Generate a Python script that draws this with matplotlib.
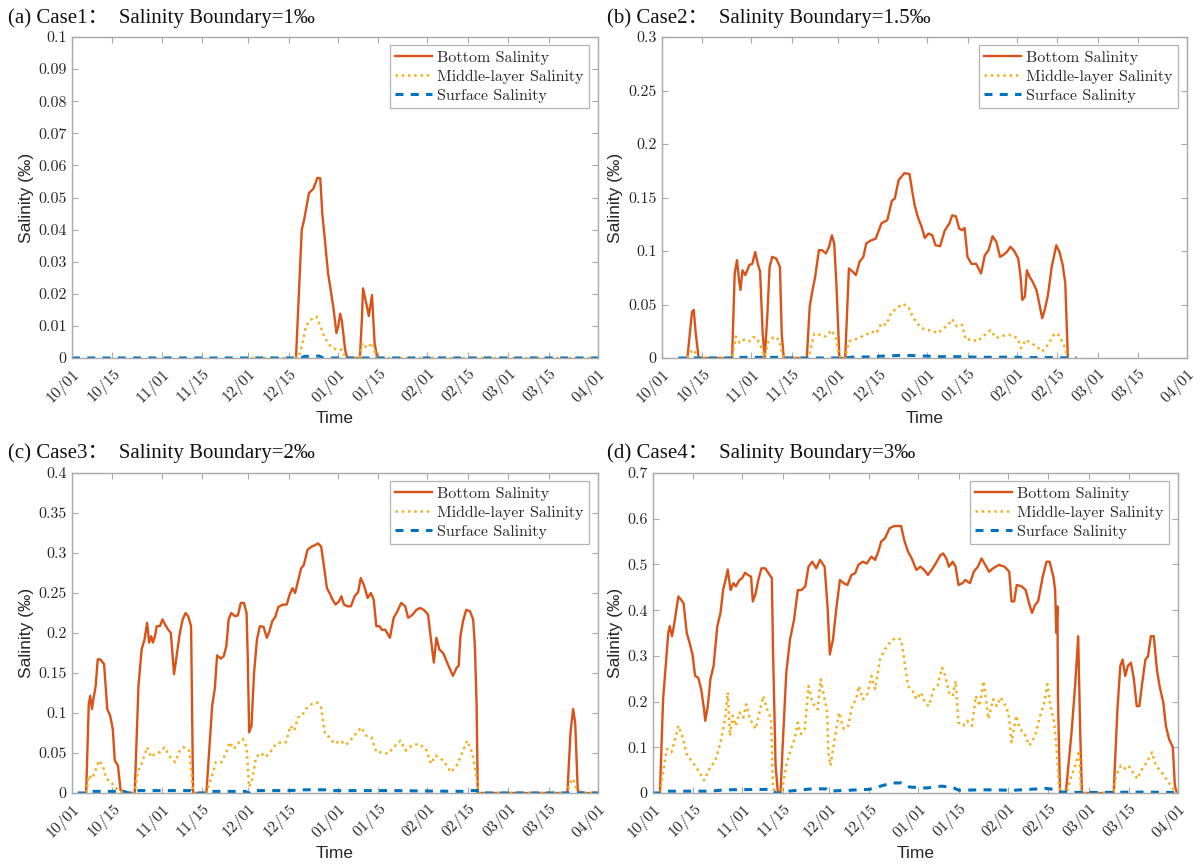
import numpy as np
import matplotlib
matplotlib.use("Agg")
import matplotlib.pyplot as plt

# ---------------- data (day offset from 10/01) ----------------
tick_days = [0, 14, 31, 45, 61, 75, 92, 106, 123, 137, 151, 165, 182]
tick_labels = ["10/01", "10/15", "11/01", "11/15", "12/01", "12/15", "01/01",
               "01/15", "02/01", "02/15", "03/01", "03/15", "04/01"]

series_names = ["Bottom Salinity", "Middle-layer Salinity", "Surface Salinity"]
titles = ["(a) Case1：  Salinity Boundary=1‰",
          "(b) Case2：  Salinity Boundary=1.5‰",
          "(c) Case3：  Salinity Boundary=2‰",
          "(d) Case4：  Salinity Boundary=3‰"]
ylims = [0.1, 0.3, 0.4, 0.7]
yticks_a = [0, 0.01, 0.02, 0.03, 0.04, 0.05, 0.06, 0.07, 0.08, 0.09, 0.1]
yticks_b = [0, 0.05, 0.1, 0.15, 0.2, 0.25, 0.3]
yticks_c = [0, 0.05, 0.1, 0.15, 0.2, 0.25, 0.3, 0.35, 0.4]
yticks_d = [0, 0.1, 0.2, 0.3, 0.4, 0.5, 0.6, 0.7]

# Case 1
a_bot_day = [77.5, 79.5, 80.3, 82.0, 83.5, 84.9, 85.9, 86.6, 87.5, 88.6, 89.5, 90.4,
             91.5, 92.1, 92.8, 93.4, 94.5, 95.2, 99.6, 100.3, 100.7, 101.8, 102.7,
             103.8, 104.7, 105.6]
a_bot_val = [0, 0.040, 0.043, 0.0514, 0.0527, 0.0561, 0.056, 0.045, 0.0367, 0.0264,
             0.0212, 0.016, 0.0078, 0.0098, 0.0138, 0.0114, 0.0026, 0, 0, 0.012,
             0.0217, 0.0171, 0.0131, 0.0196, 0.0047, 0]
a_mid_day = [62, 78.2, 79.6, 80.9, 82.5, 84.6, 86.2, 87.5, 89.5, 91.5, 93.4, 94.8,
             99.4, 100.5, 102, 104, 105.3, 182]
a_mid_val = [0, 0, 0.004, 0.0098, 0.0119, 0.0129, 0.0093, 0.0062, 0.0036, 0.0026,
             0.0026, 0, 0, 0.0047, 0.0031, 0.0047, 0, 0]
a_sur_day = [0, 79, 80.5, 85.5, 87, 182]
a_sur_val = [0, 0, 0.0005, 0.0006, 0, 0]

# Case 2
b_bot_day = [8.8, 10.4, 11.0, 11.7, 12.7, 24.3, 25.2, 26.0, 26.7, 27.2, 27.9, 28.9,
             30.3, 31.3, 32.3, 33.2, 34.0, 34.9, 35.6, 36.5, 37.3, 38.2, 39.6, 40.9,
             41.5, 42.2, 50.2, 51.2, 52.2, 53.1, 54.4, 55.5, 56.8, 57.9, 58.9, 59.7,
             60.5, 61.5, 63.5, 64.8, 65.8, 67.2, 68.5, 69.8, 70.8, 72.1, 74.1, 76.1,
             78.1, 79.7, 80.7, 82.0, 84.0, 85.8, 86.7, 87.6, 88.7, 90.0, 91.1, 92.4,
             93.7, 94.8, 96.4, 98.0, 99.6, 100.6, 101.9, 103.0, 104.0, 104.9, 105.9,
             107.3, 108.9, 110.6, 111.9, 113.2, 114.6, 115.9, 117.2, 118.5, 119.5,
             120.8, 122.1, 123.5, 124.3, 124.9, 125.8, 126.5, 127.4, 128.5, 129.8,
             130.9, 131.8, 132.7, 133.8, 135.1, 136.7, 137.8, 138.9, 139.8, 140.7]
b_bot_val = [0, 0.043, 0.045, 0.023, 0, 0, 0.079, 0.0915, 0.073, 0.0636, 0.082,
             0.0775, 0.087, 0.088, 0.099, 0.088, 0.081, 0.023, 0, 0.039, 0.085,
             0.0945, 0.093, 0.085, 0.023, 0, 0, 0.048, 0.0636, 0.076, 0.1008, 0.1008,
             0.0977, 0.104, 0.1147, 0.107, 0.0667, 0, 0, 0.0837, 0.0815, 0.0775, 0.09,
             0.0945, 0.107, 0.1094, 0.1116, 0.126, 0.1287, 0.147, 0.149, 0.166,
             0.1727, 0.172, 0.1566, 0.1426, 0.1318, 0.1225, 0.1122, 0.1163, 0.1147,
             0.1054, 0.1045, 0.119, 0.1256, 0.1333, 0.1324, 0.121, 0.1194, 0.1216,
             0.0945, 0.088, 0.088, 0.079, 0.096, 0.1008, 0.1138, 0.1085, 0.0945,
             0.0967, 0.099, 0.104, 0.100, 0.093, 0.076, 0.0543, 0.0574, 0.082, 0.076,
             0.0713, 0.0636, 0.0496, 0.0372, 0.045, 0.0589, 0.0853, 0.1054, 0.099,
             0.087, 0.07, 0]
b_mid_day = [8.8, 10.1, 11.0, 12.3, 24.3, 25.6, 27.0, 28.3, 30.3, 31.6, 32.9, 34.2,
             35.6, 36.9, 38.9, 40.6, 42.0, 50.2, 51.2, 52.8, 54.8, 56.8, 58.8, 60.5,
             61.5, 63.5, 64.8, 66.8, 68.8, 70.8, 72.7, 74.3, 76.1, 77.8, 79.4, 81.4,
             83.4, 85.4, 86.7, 88.4, 90.0, 92.0, 93.7, 95.6, 97.7, 99.3, 100.6, 102.2,
             104.0, 105.3, 107.3, 109.3, 111.2, 113.9, 115.9, 117.9, 120.5, 123.2,
             124.5, 126.1, 127.8, 129.8, 131.8, 133.8, 135.8, 137.1, 139.1, 140.7]
b_mid_val = [0, 0.006, 0.0078, 0, 0, 0.02, 0.014, 0.017, 0.0155, 0.0195, 0.0186,
             0.011, 0.0015, 0.0155, 0.02, 0.017, 0, 0, 0.0047, 0.023, 0.0217, 0.02,
             0.026, 0.017, 0, 0, 0.0155, 0.017, 0.0195, 0.0217, 0.0248, 0.023, 0.0326,
             0.031, 0.042, 0.0465, 0.0505, 0.048, 0.040, 0.0326, 0.028, 0.026, 0.0257,
             0.023, 0.028, 0.031, 0.0363, 0.0295, 0.031, 0.017, 0.0177, 0.0155, 0.02,
             0.026, 0.0186, 0.0208, 0.0217, 0.0186, 0.0093, 0.017, 0.014, 0.011,
             0.006, 0.0124, 0.0217, 0.023, 0.014, 0]
b_sur_day = [5.7, 24, 26, 40, 42, 63, 66, 72, 78, 84, 90, 96, 104, 110, 120, 128,
             136, 143.8]
b_sur_val = [0, 0, 0.0006, 0.0006, 0, 0, 0.0008, 0.001, 0.002, 0.0025, 0.002,
             0.0012, 0.0012, 0.0006, 0.0008, 0.0004, 0.0004, 0]

# Case 3
c_bot_day = [4.9, 5.8, 6.3, 6.9, 7.4, 8.2, 8.9, 9.8, 11.1, 12.2, 13.2, 14.1, 14.8,
             15.9, 16.8, 18.1, 18.8, 21.7, 23.0, 24.1, 25.1, 26.0, 26.7, 27.4, 28.0,
             28.7, 29.3, 30.4, 31.3, 32.2, 33.3, 34.2, 35.3, 36.2, 37.3, 38.3, 39.3,
             40.2, 41.2, 41.5, 41.9, 46.5, 48.5, 49.4, 50.2, 51.5, 52.5, 53.4, 54.2,
             55.1, 56.4, 57.4, 58.4, 59.5, 60.4, 60.8, 61.3, 62.1, 63.0, 64.0, 65.0,
             66.3, 67.4, 68.3, 69.3, 70.3, 71.4, 73.0, 74.3, 75.3, 76.3, 77.2, 78.2,
             79.3, 80.2, 81.5, 82.9, 84.2, 85.1, 86.2, 87.2, 88.2, 89.1, 90.1, 91.2,
             92.4, 93.2, 94.1, 95.4, 96.5, 97.8, 99.0, 99.9, 101.0, 102.3, 103.4,
             104.4, 105.3, 106.3, 107.3, 108.4, 110.0, 111.3, 112.6, 113.9, 115.3,
             116.3, 117.6, 119.2, 120.5, 121.9, 123.2, 124.2, 125.2, 126.1, 127.1,
             128.5, 129.8, 130.8, 131.8, 133.1, 133.8, 134.4, 135.3, 136.4, 137.7,
             138.8, 139.4, 140.0, 140.4, 171.4, 172.5, 173.4, 174.1, 175.0, 176.0,
             177.4, 182]
c_bot_val = [0, 0.111, 0.1215, 0.105, 0.117, 0.134, 0.167, 0.167, 0.161, 0.105,
             0.0966, 0.080, 0.0406, 0.0344, 0.0033, 0.002, 0, 0, 0.134, 0.1795,
             0.192, 0.2127, 0.188, 0.196, 0.188, 0.196, 0.2085, 0.2085, 0.217, 0.2106,
             0.204, 0.200, 0.1485, 0.171, 0.200, 0.217, 0.225, 0.221, 0.2085, 0.117,
             0, 0, 0.109, 0.13, 0.172, 0.168, 0.171, 0.1837, 0.217, 0.225, 0.221,
             0.222, 0.2376, 0.2376, 0.225, 0.171, 0.0759, 0.084, 0.1505, 0.192,
             0.2085, 0.2077, 0.194, 0.202, 0.2148, 0.22, 0.2326, 0.2355, 0.2355,
             0.248, 0.256, 0.25, 0.2645, 0.281, 0.285, 0.304, 0.308, 0.31, 0.312,
             0.308, 0.283, 0.256, 0.25, 0.242, 0.2355, 0.2396, 0.246, 0.2355, 0.2334,
             0.2334, 0.246, 0.251, 0.2687, 0.26, 0.2438, 0.25, 0.2417, 0.2085, 0.2085,
             0.204, 0.204, 0.194, 0.219, 0.2272, 0.2376, 0.2334, 0.219, 0.222, 0.229,
             0.2313, 0.2285, 0.223, 0.192, 0.163, 0.194, 0.1795, 0.1745, 0.163,
             0.1546, 0.1464, 0.1567, 0.159, 0.196, 0.2148, 0.229, 0.2272, 0.217,
             0.1837, 0.109, 0, 0, 0.0759, 0.105, 0.088, 0.003, 0.001, 0, 0]
c_mid_day = [4.9, 5.8, 6.9, 7.9, 9.3, 10.6, 11.9, 13.5, 14.8, 16.4, 18.8, 21.7,
             22.7, 24.3, 26.0, 27.4, 28.7, 30.4, 32.0, 34.0, 35.7, 37.3, 38.6, 40.6,
             41.9, 46.5, 48.5, 49.8, 51.8, 53.4, 54.5, 56.0, 57.8, 59.1, 60.4, 61.3,
             62.4, 63.7, 65.3, 67.0, 69.0, 70.6, 72.3, 74.0, 75.6, 76.9, 78.2, 79.6,
             80.9, 82.9, 84.9, 86.2, 87.5, 89.1, 90.8, 92.8, 94.8, 96.7, 98.7, 100.0,
             101.8, 103.6, 105.3, 107.3, 109.3, 111.3, 113.7, 115.5, 117.6, 119.9,
             122.5, 124.2, 125.8, 128.5, 131.1, 133.1, 135.1, 136.7, 138.4, 139.7,
             140.7, 171.4, 172.1, 173.4, 174.7, 176.0, 182]
c_mid_val = [0, 0.022, 0.0178, 0.026, 0.0406, 0.0344, 0.0178, 0.0137, 0.0075,
             0.002, 0, 0, 0.026, 0.0386, 0.0572, 0.0448, 0.049, 0.051, 0.0572,
             0.0448, 0.0386, 0.053, 0.0572, 0.053, 0, 0, 0.022, 0.0386, 0.0386,
             0.051, 0.0634, 0.0551, 0.0634, 0.0676, 0.0572, 0.0075, 0.0178, 0.0448,
             0.05, 0.0448, 0.053, 0.0614, 0.0634, 0.0634, 0.084, 0.078, 0.0945,
             0.0966, 0.105, 0.111, 0.113, 0.107, 0.0738, 0.0697, 0.0614, 0.0655,
             0.06, 0.0676, 0.0759, 0.082, 0.0717, 0.0697, 0.051, 0.051, 0.049, 0.0572,
             0.0655, 0.053, 0.0593, 0.0614, 0.0551, 0.0365, 0.0468, 0.0406, 0.026,
             0.0344, 0.051, 0.0655, 0.051, 0.026, 0, 0, 0.0116, 0.0178, 0.003, 0, 0]
c_sur_day = [2, 5, 6, 18, 19.5, 22, 23, 41, 42, 47, 48, 60, 61, 62, 63, 75, 80,
             88, 90, 110, 135, 138, 140, 141, 182]
c_sur_val = [0, 0, 0.002, 0.002, 0, 0, 0.003, 0.003, 0, 0, 0.002, 0.002, 0, 0,
             0.003, 0.003, 0.004, 0.004, 0.003, 0.003, 0.002, 0.003, 0.003, 0, 0]

# Case 4
d_bot_day = [2.4, 3.5, 4.4, 5.3, 5.8, 6.6, 7.4, 8.8, 9.7, 10.6, 11.7, 12.7, 13.7,
             14.6, 15.7, 16.7, 17.7, 18.1, 19.0, 19.9, 21.0, 22.3, 23.4, 24.3, 25.4,
             25.9, 26.9, 27.9, 28.7, 30.0, 30.9, 31.9, 32.9, 34.0, 34.6, 35.6, 36.5,
             37.6, 38.9, 40.0, 41.2, 41.6, 42.5, 43.3, 44.2, 44.9, 46.2, 47.5, 48.9,
             50.2, 51.5, 52.8, 53.9, 55.2, 56.6, 57.9, 59.5, 60.5, 61.3, 62.4, 63.5,
             64.8, 66.1, 67.4, 68.8, 70.1, 71.2, 72.7, 74.1, 75.7, 77.0, 78.1, 79.1,
             80.4, 82.0, 83.6, 86.0, 87.1, 88.4, 89.7, 91.3, 92.7, 94.0, 95.3, 96.6,
             98.0, 99.6, 100.6, 101.7, 102.6, 103.9, 104.9, 105.9, 107.3, 108.3,
             109.9, 111.2, 112.6, 113.9, 115.2, 116.5, 117.9, 119.9, 121.9, 123.5,
             124.3, 125.2, 126.1, 127.8, 129.2, 130.5, 131.4, 132.5, 133.5, 135.1,
             136.4, 137.5, 138.8, 139.4, 139.8, 140.2, 140.4, 141.1, 143.1, 145.1,
             146.4, 147.4, 148.1, 148.7, 159.7, 161.0, 162.0, 162.8, 163.7, 164.6,
             165.7, 166.7, 167.7, 168.6, 169.6, 170.7, 171.6, 172.6, 173.6, 174.7,
             175.6, 176.9, 177.8, 178.9, 180.2, 180.9, 181.6]
d_bot_val = [0, 0.205, 0.278, 0.35, 0.365, 0.343, 0.372, 0.43, 0.423, 0.415, 0.35,
             0.328, 0.303, 0.256, 0.252, 0.227, 0.183, 0.158, 0.19, 0.249, 0.278,
             0.365, 0.394, 0.444, 0.473, 0.489, 0.444, 0.459, 0.452, 0.466, 0.47,
             0.482, 0.477, 0.473, 0.419, 0.437, 0.466, 0.4915, 0.4915, 0.481, 0.47,
             0.314, 0.06, 0, 0, 0.0964, 0.263, 0.336, 0.379, 0.444, 0.444, 0.452,
             0.495, 0.506, 0.4915, 0.51, 0.495, 0.408, 0.303, 0.336, 0.401, 0.466,
             0.459, 0.455, 0.477, 0.481, 0.499, 0.506, 0.502, 0.517, 0.51, 0.528,
             0.55, 0.557, 0.579, 0.584, 0.584, 0.553, 0.528, 0.513, 0.488, 0.495,
             0.488, 0.477, 0.488, 0.502, 0.52, 0.524, 0.513, 0.495, 0.506, 0.495,
             0.455, 0.459, 0.466, 0.459, 0.484, 0.495, 0.513, 0.499, 0.484, 0.4915,
             0.499, 0.495, 0.484, 0.419, 0.419, 0.455, 0.452, 0.444, 0.412, 0.394,
             0.412, 0.419, 0.473, 0.506, 0.506, 0.473, 0.444, 0.35, 0.408, 0.205, 0,
             0, 0.133, 0.241, 0.343, 0.133, 0, 0, 0.183, 0.278, 0.292, 0.256, 0.278,
             0.285, 0.249, 0.19, 0.19, 0.241, 0.292, 0.299, 0.343, 0.343, 0.27,
             0.234, 0.198, 0.147, 0.118, 0.10, 0.017, 0]
d_mid_day = [2.4, 3.5, 4.8, 6.4, 7.7, 8.8, 10.1, 11.7, 13.7, 15.7, 17.7, 19.6,
             21.6, 23.4, 25.0, 25.9, 26.7, 27.6, 28.7, 30.0, 31.3, 32.3, 33.6, 35.6,
             36.9, 38.2, 39.6, 40.9, 41.6, 42.9, 44.6, 46.2, 47.8, 49.1, 50.2, 51.2,
             52.6, 53.9, 55.0, 56.2, 57.1, 58.1, 59.5, 60.3, 60.8, 61.5, 62.8, 64.5,
             66.1, 67.7, 69.0, 70.4, 71.4, 72.7, 74.1, 75.7, 77.0, 78.7, 80.4, 82.0,
             84.0, 86.0, 87.4, 88.4, 90.0, 91.3, 92.9, 94.3, 95.6, 97.3, 98.6, 100.2,
             101.3, 102.6, 103.9, 104.9, 105.9, 107.5, 108.9, 110.6, 111.9, 113.2,
             114.6, 116.3, 117.9, 119.2, 120.5, 121.9, 123.2, 124.3, 125.9, 127.2,
             128.5, 130.5, 132.5, 133.9, 135.5, 136.7, 137.8, 139.1, 140.0, 140.7,
             141.7, 143.3, 145.1, 146.4, 147.7, 148.4, 159.7, 160.5, 162.2, 163.5,
             164.8, 166.3, 167.9, 169.6, 171.2, 173.0, 174.3, 176.3, 178.3, 180.3,
             181.6]
d_mid_val = [0, 0.0457, 0.0964, 0.089, 0.118, 0.147, 0.125, 0.0855, 0.0674, 0.049,
             0.0275, 0.053, 0.071, 0.111, 0.162, 0.22, 0.125, 0.169, 0.147, 0.176,
             0.165, 0.194, 0.162, 0.14, 0.176, 0.212, 0.183, 0.162, 0.0094, 0, 0,
             0.06, 0.0964, 0.118, 0.154, 0.129, 0.14, 0.234, 0.205, 0.187, 0.183,
             0.249, 0.205, 0.183, 0.089, 0.06, 0.111, 0.176, 0.14, 0.147, 0.19,
             0.205, 0.234, 0.205, 0.212, 0.256, 0.227, 0.292, 0.314, 0.328, 0.339,
             0.336, 0.278, 0.234, 0.223, 0.205, 0.22, 0.198, 0.19, 0.227, 0.234,
             0.274, 0.256, 0.22, 0.212, 0.245, 0.154, 0.147, 0.158, 0.147, 0.212,
             0.19, 0.245, 0.162, 0.205, 0.19, 0.209, 0.194, 0.176, 0.111, 0.169,
             0.14, 0.133, 0.104, 0.125, 0.162, 0.194, 0.238, 0.19, 0.154, 0.089,
             0.017, 0, 0, 0.038, 0.06, 0.093, 0, 0, 0.038, 0.06, 0.053, 0.06, 0.0457,
             0.031, 0.053, 0.0674, 0.089, 0.06, 0.0457, 0.0275, 0.0094, 0]
d_sur_day = [0, 2.4, 4, 20, 25, 41, 42.5, 44.5, 47, 55, 60, 61, 64, 75, 80, 83,
             86, 89, 95, 100, 104, 106, 115, 125, 136, 139, 141, 150, 170, 182]
d_sur_val = [0, 0, 0.004, 0.004, 0.007, 0.008, 0, 0, 0.004, 0.009, 0.009, 0.004,
             0.005, 0.008, 0.017, 0.022, 0.022, 0.013, 0.011, 0.015, 0.012, 0.006,
             0.007, 0.006, 0.01, 0.008, 0.002, 0.001, 0.002, 0.001]

cases = [
    (a_bot_day, a_bot_val, a_mid_day, a_mid_val, a_sur_day, a_sur_val, yticks_a),
    (b_bot_day, b_bot_val, b_mid_day, b_mid_val, b_sur_day, b_sur_val, yticks_b),
    (c_bot_day, c_bot_val, c_mid_day, c_mid_val, c_sur_day, c_sur_val, yticks_c),
    (d_bot_day, d_bot_val, d_mid_day, d_mid_val, d_sur_day, d_sur_val, yticks_d),
]

# ---------------- styling ----------------
C_BOT, C_MID, C_SUR = "#D95319", "#EDB120", "#0072BD"
SPINE = "#a8a8a8"
TXT = "#262626"
TICK_FONT = ["cmr10", "DejaVu Serif"]
TITLE_FONT = ["Liberation Serif", "Noto Sans CJK SC"]
LABEL_FONT = ["Liberation Sans", "DejaVu Sans"]

fig = plt.figure(figsize=(12, 8.66), dpi=100)
W, H = 1200, 866
# axes boxes in pixels: left, top, right, bottom
boxes = [(72, 37, 598, 358), (662, 37, 1187, 358),
         (72, 473, 598, 793), (653, 473, 1178, 793)]
title_pos = [(8, 18), (607, 18), (8, 453), (607, 453)]
ylabel_x = [-0.073, -0.075, -0.073, -0.058]

for i, (box, case) in enumerate(zip(boxes, cases)):
    l, t, r, b = box
    ax = fig.add_axes([l / W, 1 - b / H, (r - l) / W, (b - t) / H])
    bd, bv, md, mv, sd, sv, yt = case
    ax.plot(bd, bv, color=C_BOT, lw=1.7, ls="-", label=series_names[0])
    ax.plot(md, mv, color=C_MID, lw=1.8, ls=(0, (1, 1.5)), label=series_names[1])
    ax.plot(sd, sv, color=C_SUR, lw=2.2, ls=(0, (2.6, 2.4)), label=series_names[2])
    ax.set_xlim(0, 182)
    ax.set_ylim(0, ylims[i])
    ax.set_xticks(tick_days)
    ax.set_xticklabels(tick_labels, rotation=45, ha="right", rotation_mode="anchor",
                       family=TICK_FONT, fontsize=11.5, color=TXT)
    ax.set_yticks(yt)
    ax.set_yticklabels([f"{v:g}" for v in yt], family=TICK_FONT, fontsize=11.5,
                       color=TXT)
    ax.tick_params(direction="in", length=4, width=0.8, color=SPINE,
                   top=True, right=True, pad=4)
    ax.tick_params(axis="x", pad=6)
    for s in ax.spines.values():
        s.set_color(SPINE)
        s.set_linewidth(1.0)
    ax.set_xlabel("Time", family=LABEL_FONT, fontsize=12.5, color=TXT)
    ax.xaxis.set_label_coords(0.5, -0.165)
    ax.set_ylabel("Salinity (‰)", family=LABEL_FONT, fontsize=12.5, color=TXT)
    ax.yaxis.set_label_coords(ylabel_x[i], 0.5)
    leg = ax.legend(loc="upper right", bbox_to_anchor=(0.983, 0.975),
                    prop={"family": TICK_FONT, "size": 11.5}, frameon=True,
                    fancybox=False, handlelength=2.3, handletextpad=0.3,
                    borderpad=0.35, labelspacing=0.3, borderaxespad=0)
    leg.get_frame().set_edgecolor("#a0a0a0")
    leg.get_frame().set_linewidth(0.9)
    for txt in leg.get_texts():
        txt.set_color(TXT)
    fig.text(title_pos[i][0] / W, 1 - title_pos[i][1] / H, titles[i],
             family=TITLE_FONT, fontsize=15, color="#111111", ha="left",
             va="center")

fig.savefig("out.png", dpi=100)
